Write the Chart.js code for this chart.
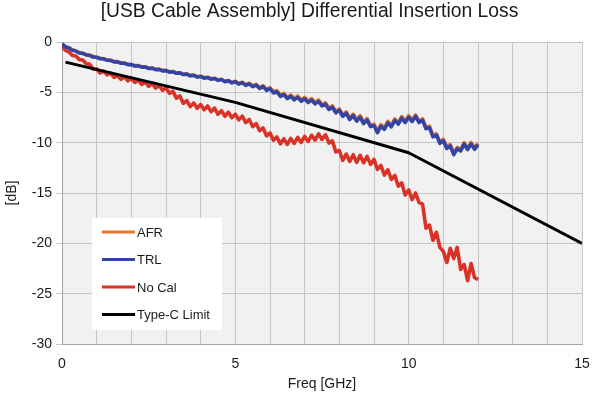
<!DOCTYPE html>
<html lang="en">
<head>
<meta charset="UTF-8">
<title>[USB Cable Assembly] Differential Insertion Loss</title>
<script src="https://cdn.jsdelivr.net/npm/chart.js"></script>
<style>
  body { margin: 0; background: #fff; }
</style>
</head>
<body>
<canvas id="chart" width="592" height="400"></canvas>
<script>
// frequency points of the measured traces [GHz]
const freq = [
  0.0, 0.1, 0.2, 0.3, 0.4, 0.5, 0.6, 0.7, 0.8, 0.9,
  1.0, 1.1, 1.2, 1.3, 1.4, 1.5, 1.6, 1.7, 1.8, 1.9,
  2.0, 2.1, 2.2, 2.3, 2.4, 2.5, 2.6, 2.7, 2.8, 2.9,
  3.0, 3.1, 3.2, 3.3, 3.4, 3.5, 3.6, 3.7, 3.8, 3.9,
  4.0, 4.1, 4.2, 4.3, 4.4, 4.5, 4.6, 4.7, 4.8, 4.9,
  5.0, 5.1, 5.2, 5.3, 5.4, 5.5, 5.6, 5.7, 5.8, 5.9,
  6.0, 6.1, 6.2, 6.3, 6.4, 6.5, 6.6, 6.7, 6.8, 6.9,
  7.0, 7.1, 7.2, 7.3, 7.4, 7.5, 7.6, 7.7, 7.8, 7.9,
  8.0, 8.1, 8.2, 8.3, 8.4, 8.5, 8.6, 8.7, 8.8, 8.9,
  9.0, 9.1, 9.2, 9.3, 9.4, 9.5, 9.6, 9.7, 9.8, 9.9,
  10.0, 10.1, 10.2, 10.3, 10.4, 10.5, 10.6, 10.7, 10.8, 10.9,
  11.0, 11.1, 11.2, 11.3, 11.4, 11.5, 11.6, 11.7, 11.8, 11.9,
  12.0
];

const afr = [
  -0.18, -0.44, -0.58, -0.78, -0.88, -1.05, -1.11, -1.25, -1.31, -1.45,
  -1.50, -1.62, -1.66, -1.78, -1.81, -1.94, -1.95, -2.07, -2.09, -2.21,
  -2.23, -2.34, -2.35, -2.46, -2.46, -2.59, -2.58, -2.71, -2.70, -2.83,
  -2.82, -2.95, -2.93, -3.07, -3.05, -3.19, -3.17, -3.32, -3.29, -3.44,
  -3.40, -3.55, -3.50, -3.66, -3.60, -3.77, -3.71, -3.90, -3.82, -4.02,
  -3.90, -4.12, -3.98, -4.24, -4.08, -4.36, -4.20, -4.52, -4.34, -4.70,
  -4.54, -4.94, -4.82, -5.28, -5.10, -5.48, -5.26, -5.60, -5.36, -5.74,
  -5.50, -5.86, -5.62, -6.00, -5.76, -6.22, -6.04, -6.56, -6.34, -6.90,
  -6.64, -7.24, -6.94, -7.56, -7.16, -7.72, -7.32, -7.96, -7.60, -8.26,
  -8.16, -8.86, -8.20, -8.54, -7.88, -8.28, -7.64, -8.02, -7.41, -7.86,
  -7.32, -7.76, -7.24, -7.86, -7.62, -8.48, -8.36, -9.28, -9.10, -9.92,
  -9.66, -10.44, -10.18, -11.04, -10.46, -10.68, -10.00, -10.54, -9.98, -10.52,
  -10.06
];

const trl = [
  -0.20, -0.48, -0.60, -0.82, -0.90, -1.09, -1.13, -1.29, -1.33, -1.49,
  -1.52, -1.66, -1.68, -1.82, -1.83, -1.98, -1.97, -2.11, -2.11, -2.25,
  -2.25, -2.38, -2.37, -2.50, -2.48, -2.63, -2.60, -2.75, -2.72, -2.87,
  -2.84, -2.99, -2.95, -3.11, -3.07, -3.23, -3.19, -3.36, -3.31, -3.48,
  -3.42, -3.59, -3.52, -3.70, -3.62, -3.81, -3.73, -3.94, -3.84, -4.06,
  -3.94, -4.18, -4.04, -4.31, -4.15, -4.44, -4.28, -4.61, -4.43, -4.80,
  -4.64, -5.06, -4.94, -5.40, -5.22, -5.62, -5.40, -5.75, -5.50, -5.88,
  -5.64, -6.00, -5.76, -6.14, -5.90, -6.36, -6.18, -6.70, -6.48, -7.04,
  -6.78, -7.38, -7.08, -7.70, -7.30, -7.86, -7.46, -8.10, -7.74, -8.40,
  -8.30, -9.00, -8.35, -8.68, -8.02, -8.42, -7.78, -8.16, -7.55, -8.00,
  -7.46, -7.90, -7.38, -8.00, -7.76, -8.62, -8.50, -9.42, -9.24, -10.06,
  -9.80, -10.58, -10.32, -11.18, -10.60, -10.82, -10.14, -10.68, -10.12, -10.66,
  -10.20
];

const noCal = [
  -0.45, -0.82, -1.00, -1.34, -1.40, -1.75, -1.78, -2.16, -2.22, -2.70,
  -2.66, -3.08, -2.88, -3.26, -3.10, -3.52, -3.32, -3.70, -3.44, -3.86,
  -3.60, -4.02, -3.76, -4.22, -3.96, -4.40, -4.12, -4.58, -4.30, -4.80,
  -4.56, -5.10, -4.90, -5.58, -5.36, -6.10, -5.82, -6.42, -6.06, -6.58,
  -6.22, -6.74, -6.36, -6.92, -6.56, -7.18, -6.82, -7.38, -6.98, -7.52,
  -7.18, -7.74, -7.36, -8.00, -7.70, -8.40, -8.10, -8.80, -8.54, -9.32,
  -9.04, -9.76, -9.44, -10.12, -9.62, -10.18, -9.58, -10.08, -9.48, -9.98,
  -9.38, -9.88, -9.28, -9.74, -9.12, -9.68, -9.22, -10.04, -9.82, -10.92,
  -10.78, -11.76, -11.14, -11.86, -11.20, -11.96, -11.26, -12.00, -11.36, -12.16,
  -11.66, -12.66, -12.26, -13.22, -12.70, -13.66, -13.24, -14.32, -14.00, -15.20,
  -14.70, -15.65, -15.00, -15.95, -16.10, -18.50, -18.20, -19.70, -18.90, -20.40,
  -20.80, -21.90, -20.50, -21.50, -20.40, -22.60, -22.10, -23.70, -22.00, -23.40,
  -23.60
];

// Type-C limit line corners
const limitFreq = [0.1, 5, 10, 15];
const limitDb = [-2, -6, -11, -20];

// labelled x ticks (grid every 1 GHz)
const xTickLabels = [0, 5, 10, 15];

const FONT = "'Liberation Sans', Arial, sans-serif";

function pairs(xs, ys) {
  return xs.map((x, i) => ({ x: x, y: ys[i] }));
}

// grey plot area
const plotBackground = {
  id: 'plotBackground',
  beforeDraw(chart, args, opts) {
    const { ctx, chartArea: a } = chart;
    ctx.save();
    ctx.fillStyle = opts.color;
    ctx.fillRect(a.left, a.top, a.width, a.height);
    ctx.restore();
  }
};

// white legend box inside the plot, lower left
const boxLegend = {
  id: 'boxLegend',
  afterDatasetsDraw(chart, args, opts) {
    const ctx = chart.ctx;
    ctx.save();
    ctx.fillStyle = '#ffffff';
    ctx.fillRect(opts.left, opts.top, opts.width, opts.height);
    ctx.font = opts.fontSize + 'px ' + FONT;
    ctx.textBaseline = 'middle';
    ctx.textAlign = 'left';
    chart.data.datasets.forEach((ds, i) => {
      const y = opts.firstRow + i * opts.rowGap;
      ctx.strokeStyle = ds.borderColor;
      ctx.lineWidth = 3;
      ctx.beginPath();
      ctx.moveTo(opts.lineX, y);
      ctx.lineTo(opts.lineX + opts.lineLen, y);
      ctx.stroke();
      ctx.fillStyle = '#1a1a1a';
      ctx.fillText(ds.label, opts.lineX + opts.lineLen + 2, y + 1);
    });
    ctx.restore();
  }
};

// title centred where the original sits
const topTitle = {
  id: 'topTitle',
  afterDraw(chart, args, opts) {
    const ctx = chart.ctx;
    ctx.save();
    ctx.font = opts.fontSize + 'px ' + FONT;
    ctx.fillStyle = '#1a1a1a';
    ctx.textAlign = 'center';
    ctx.textBaseline = 'alphabetic';
    ctx.fillText(opts.text, opts.x, opts.y);
    ctx.restore();
  }
};

const traceStyle = { pointRadius: 0, borderWidth: 3.6, borderJoinStyle: 'round', tension: 0, fill: false };
const limitStyle = { pointRadius: 0, borderWidth: 3, borderJoinStyle: 'round', tension: 0, fill: false };

new Chart(document.getElementById('chart'), {
  type: 'line',
  data: {
    datasets: [
      Object.assign({ label: 'AFR', data: pairs(freq, afr), borderColor: '#e8772e', order: 2 }, traceStyle),
      Object.assign({ label: 'TRL', data: pairs(freq, trl), borderColor: '#3444a2', order: 1 }, traceStyle),
      Object.assign({ label: 'No Cal', data: pairs(freq, noCal), borderColor: '#d93327', order: 3 }, traceStyle),
      Object.assign({ label: 'Type-C Limit', data: pairs(limitFreq, limitDb), borderColor: '#000000', order: 0 }, limitStyle)
    ]
  },
  options: {
    responsive: false,
    animation: false,
    layout: { padding: { top: 42, right: 10, left: 0, bottom: 0 } },
    plugins: {
      legend: { display: false },
      title: { display: false },
      tooltip: { enabled: false },
      plotBackground: { color: '#f1f1f1' },
      boxLegend: { left: 92, top: 218, width: 130, height: 112, firstRow: 232, rowGap: 27.5, lineX: 102, lineLen: 33, fontSize: 13 },
      topTitle: { text: '[USB Cable Assembly] Differential Insertion Loss', x: 309.5, y: 16.5, fontSize: 19.3 }
    },
    scales: {
      x: {
        type: 'linear',
        min: 0,
        max: 15,
        ticks: {
          stepSize: 1,
          autoSkip: false,
          maxRotation: 0,
          padding: 12,
          color: '#1a1a1a',
          font: { family: FONT, size: 14 },
          callback: v => xTickLabels.includes(v) ? String(v) : ''
        },
        grid: { color: '#c6c6c6', drawTicks: false },
        border: { color: '#a6a6a6' },
        title: { display: true, text: 'Freq [GHz]', color: '#1a1a1a', font: { family: FONT, size: 14 }, padding: { top: 0, bottom: 7 } },
        afterFit: s => { s.height = 56; s.paddingLeft = 0; s.paddingRight = 0; }
      },
      y: {
        min: -30,
        max: 0,
        ticks: {
          stepSize: 5,
          padding: 4,
          color: '#1a1a1a',
          font: { family: FONT, size: 14 }
        },
        grid: { color: '#c6c6c6', tickLength: 6 },
        border: { color: '#a6a6a6' },
        title: { display: true, text: '[dB]', color: '#1a1a1a', font: { family: FONT, size: 14 }, padding: { top: 4, bottom: 0 } },
        afterFit: s => { s.width = 62; }
      }
    }
  },
  plugins: [plotBackground, boxLegend, topTitle]
});
</script>
</body>
</html>
